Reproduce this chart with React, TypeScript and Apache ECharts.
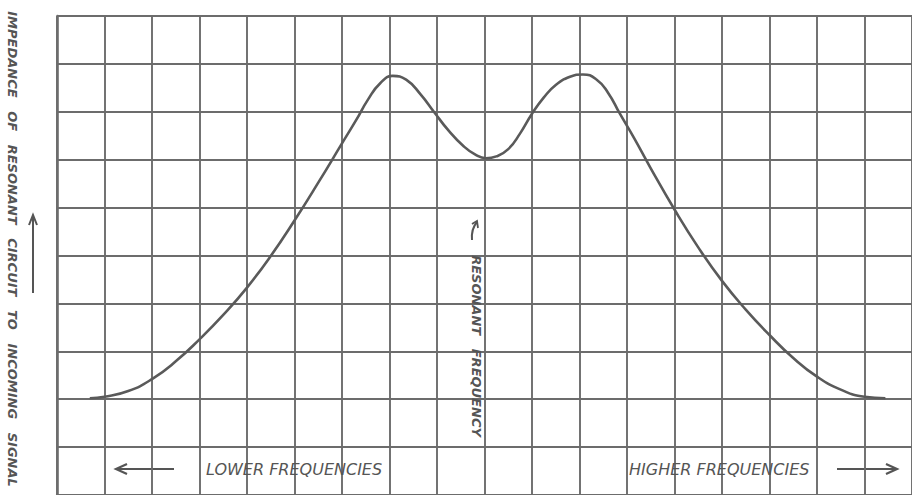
import React, { useEffect, useRef } from "react";
import * as echarts from "echarts";

// Frequency (grid columns) and impedance (grid rows)
const freqX = [0.69, 1.0, 1.5, 2.0, 2.5, 3.0, 3.5, 4.0, 4.5, 5.0, 5.5, 6.0, 6.3, 6.55, 6.8, 7.07, 7.35, 7.65, 7.95, 8.25, 8.55, 8.8, 9.03, 9.25, 9.5, 9.75, 10.0, 10.25, 10.5, 10.8, 11.07, 11.35, 11.6, 11.85, 12.15, 12.5, 13.0, 13.5, 14.0, 14.5, 15.0, 15.5, 16.0, 16.5, 17.0, 17.44];
const impedance = [2.02, 2.05, 2.17, 2.42, 2.79, 3.25, 3.76, 4.33, 4.99, 5.73, 6.52, 7.34, 7.83, 8.26, 8.59, 8.75, 8.67, 8.37, 7.98, 7.60, 7.29, 7.11, 7.03, 7.07, 7.22, 7.55, 7.96, 8.30, 8.56, 8.73, 8.78, 8.68, 8.40, 7.96, 7.45, 6.82, 5.96, 5.17, 4.47, 3.87, 3.34, 2.86, 2.47, 2.20, 2.05, 2.02];

const xMin = 0;
const xMax = 18;
const yMin = 0;
const yMax = 10;

const yTitle = "IMPEDANCE   OF   RESONANT   CIRCUIT   TO   INCOMING   SIGNAL";
const resonantLabel = "RESONANT   FREQUENCY";
const lowerLabel = "LOWER FREQUENCIES";
const higherLabel = "HIGHER FREQUENCIES";

const INK = "#555555";
const GRID = "#6c6c6c";

export default function App() {
  const ref = useRef<HTMLDivElement>(null);

  useEffect(() => {
    if (!ref.current) return;
    const chart = echarts.init(ref.current, null, { renderer: "svg" });
    const data = freqX.map((x, i) => [x, impedance[i]]);

    chart.setOption({
      animation: false,
      backgroundColor: "#ffffff",
      grid: { left: 57, top: 16, width: 856.8, height: 480, containLabel: false },
      xAxis: {
        type: "value",
        position: "top",
        min: xMin,
        max: xMax,
        interval: 1,
        axisLine: { show: true, lineStyle: { color: GRID, width: 2.6 } },
        axisTick: { show: false },
        axisLabel: { show: false },
        splitLine: { show: true, lineStyle: { color: GRID, width: 1.9 } },
      },
      yAxis: {
        type: "value",
        min: yMin,
        max: yMax,
        interval: 1,
        axisLine: { show: true, lineStyle: { color: GRID, width: 2.6 } },
        axisTick: { show: false },
        axisLabel: { show: false },
        splitLine: { show: true, lineStyle: { color: GRID, width: 1.9 } },
      },
      series: [
        {
          type: "line",
          data,
          smooth: 0.5,
          showSymbol: false,
          symbol: "none",
          lineStyle: { color: "#5a5a5a", width: 2.6 },
          z: 5,
        },
      ],
      graphic: [
        {
          type: "text",
          x: 12,
          y: 249,
          rotation: -Math.PI / 2,
          style: {
            text: yTitle,
            fontFamily: "DejaVu Sans",
            fontWeight: "bold",
            fontStyle: "italic",
            fontSize: 13,
            fill: INK,
            align: "center",
            verticalAlign: "middle",
          },
        },
        {
          type: "polyline",
          shape: { points: [[33, 293], [33, 216]] },
          style: { stroke: INK, lineWidth: 2, fill: null },
        },
        {
          type: "polyline",
          shape: { points: [[29, 225], [33, 215], [37, 225]] },
          style: { stroke: INK, lineWidth: 2, fill: null },
        },
        {
          type: "text",
          x: 476,
          y: 346,
          rotation: -Math.PI / 2,
          z: 10,
          style: {
            text: resonantLabel,
            fontFamily: "DejaVu Sans",
            fontWeight: "bold",
            fontStyle: "italic",
            fontSize: 13,
            fill: INK,
            align: "center",
            verticalAlign: "middle",
          },
        },
        {
          type: "bezierCurve",
          shape: { x1: 472, y1: 240, cpx1: 471, cpy1: 229, x2: 477, y2: 222 },
          style: { stroke: INK, lineWidth: 2, fill: null },
        },
        {
          type: "polyline",
          shape: { points: [[472, 224], [477, 221], [478, 228]] },
          style: { stroke: INK, lineWidth: 1.8, fill: null },
        },
        {
          type: "text",
          x: 206,
          y: 469,
          z: 10,
          style: {
            text: lowerLabel,
            fontFamily: "DejaVu Sans",
            fontStyle: "italic",
            fontSize: 16,
            fill: INK,
            align: "left",
            verticalAlign: "middle",
          },
        },
        {
          type: "text",
          x: 629,
          y: 469,
          z: 10,
          style: {
            text: higherLabel,
            fontFamily: "DejaVu Sans",
            fontStyle: "italic",
            fontSize: 16,
            fill: INK,
            align: "left",
            verticalAlign: "middle",
          },
        },
        {
          type: "polyline",
          shape: { points: [[174, 469], [117, 469]] },
          style: { stroke: INK, lineWidth: 2.2, fill: null },
        },
        {
          type: "polyline",
          shape: { points: [[127, 464], [116, 469], [127, 474]] },
          style: { stroke: INK, lineWidth: 2.2, fill: null },
        },
        {
          type: "polyline",
          shape: { points: [[837, 469], [896, 469]] },
          style: { stroke: INK, lineWidth: 2.2, fill: null },
        },
        {
          type: "polyline",
          shape: { points: [[886, 464], [897, 469], [886, 474]] },
          style: { stroke: INK, lineWidth: 2.2, fill: null },
        },
      ],
    });

    return () => chart.dispose();
  }, []);

  return (
    <div
      ref={ref}
      style={{ position: "absolute", left: 0, top: 0, width: 912, height: 495, background: "#fff" }}
    />
  );
}
